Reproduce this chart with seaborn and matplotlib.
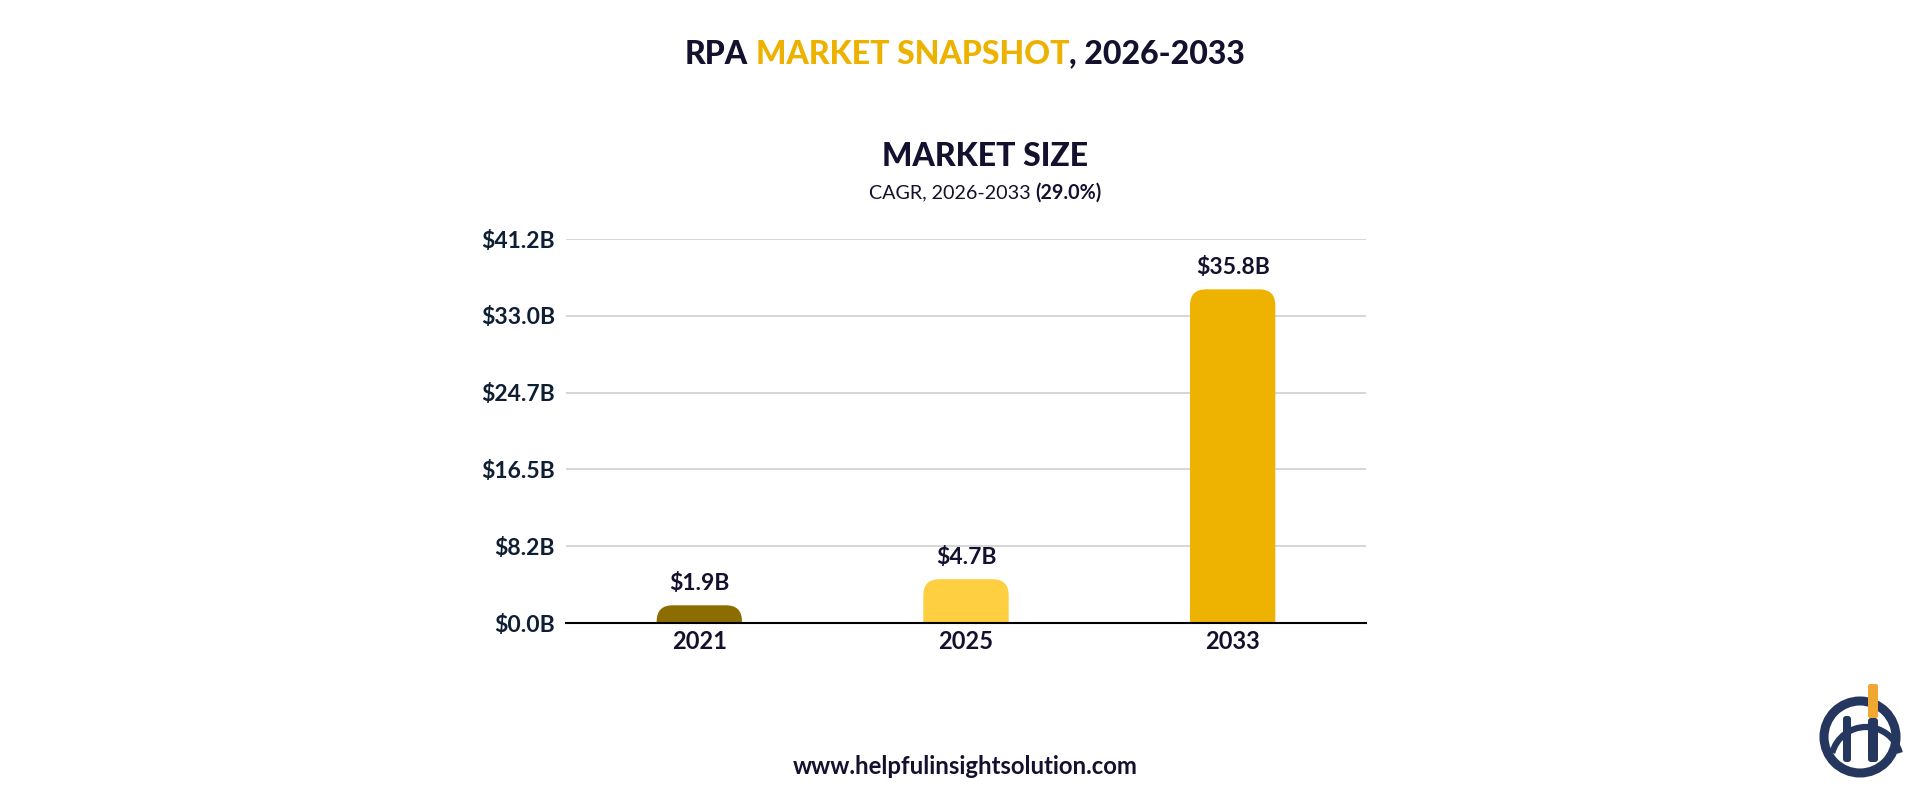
import matplotlib
matplotlib.use("Agg")
import matplotlib.pyplot as plt
import seaborn as sns
import pandas as pd
from matplotlib.patches import FancyBboxPatch, Circle, Rectangle, Arc

# ---- data ----
years = ["2021", "2025", "2033"]
values = [1.9, 4.7, 35.8]
bar_labels = ["$1.9B", "$4.7B", "$35.8B"]
ytick_vals = [0.0, 8.24, 16.48, 24.72, 32.96, 41.2]
ytick_labels = ["$0.0B", "$8.2B", "$16.5B", "$24.7B", "$33.0B", "$41.2B"]
bar_colors = ["#8C6D00", "#FDCF41", "#EEB300"]

title_parts = [("RPA ", "#14112e"), ("MARKET SNAPSHOT", "#EDB200"), (", 2026-2033", "#14112e")]
panel_title = "MARKET SIZE"
sub_regular = "CAGR, 2026-2033 "
sub_bold = "(29.0%)"
footer = "www.helpfulinsightsolution.com"

DARK = "#14112e"
NAVY = "#0f1f33"

sns.set_theme(style="white")
plt.rcParams["font.family"] = ["Lato", "DejaVu Sans"]

W, H = 1930, 806
fig = plt.figure(figsize=(W / 100, H / 100), dpi=100)
fig.patch.set_facecolor("white")


def fx(px):
    return px / W


def fy(py):
    return 1 - py / H


ax = fig.add_axes([fx(566), fy(623), 800 / W, 384 / H])
df = pd.DataFrame({"year": years, "value": values})
sns.barplot(data=df, x="year", y="value", hue="year", palette=bar_colors,
            legend=False, width=0.32, ax=ax, saturation=1)
ax.set_xlim(-0.5, 2.5)
ax.set_ylim(0, 41.2)

# rounded-top bars built from the seaborn bar geometry
xr = 3.0 / 800
yr = 41.2 / 384
rad_px = 16
patches = list(ax.patches)
for p in patches:
    x0, w, h = p.get_x(), p.get_width(), p.get_height()
    col = p.get_facecolor()
    p.set_visible(False)
    ext = rad_px * yr * 1.5
    fb = FancyBboxPatch((x0, -ext), w, h + ext,
                        boxstyle=f"round,pad=0,rounding_size={rad_px * xr}",
                        mutation_aspect=yr / xr, facecolor=col, edgecolor="none",
                        zorder=3, clip_on=True)
    ax.add_patch(fb)

for i, (v, lab) in enumerate(zip(values, bar_labels)):
    ax.annotate(lab, (i, v), xytext=(0, 8), textcoords="offset points",
                ha="center", va="bottom", fontsize=16.5, fontweight="bold", color=DARK)

ax.set_yticks(ytick_vals)
ax.set_yticklabels(ytick_labels, fontsize=16.5, fontweight="bold", color=NAVY)
ax.set_xticks(range(len(years)))
ax.set_xticklabels(years, fontsize=17, fontweight="bold", color=DARK)
ax.tick_params(axis="y", length=0, pad=8)
ax.tick_params(axis="x", length=0, pad=5)
ax.set_xlabel("")
ax.set_ylabel("")
ax.yaxis.grid(True, color="#cccccc", linewidth=1.1)
ax.set_axisbelow(True)
for s in ["top", "right", "left"]:
    ax.spines[s].set_visible(False)
ax.spines["bottom"].set_color("black")
ax.spines["bottom"].set_linewidth(1.5)
ax.spines["bottom"].set_zorder(5)

# ---- multi-colour title ----
fig.canvas.draw()
renderer = fig.canvas.get_renderer()
tkw = dict(fontsize=23, fontweight="black")


def width_of(s, **kw):
    t = fig.text(0, 0, s, **kw)
    w = t.get_window_extent(renderer).width
    t.remove()
    return w


space_w = width_of("x x", **tkw) - width_of("xx", **tkw)
widths = []
for s, c in title_parts:
    core = s.strip()
    widths.append(width_of(core, **tkw) + space_w * (len(s) - len(s.lstrip())) + space_w * (len(s) - len(s.rstrip())))
total = sum(widths)
x = 965 - total / 2
for (s, c), w in zip(title_parts, widths):
    lead = len(s) - len(s.lstrip())
    fig.text(fx(x + lead * space_w), fy(54), s.strip(), color=c, ha="left", va="center", **tkw)
    x += w

# ---- panel title and subtitle ----
fig.text(fx(985), fy(156), panel_title, ha="center", va="center",
         fontsize=23, fontweight="black", color=DARK)
skw_r = dict(fontsize=14.2, color=DARK)
skw_b = dict(fontsize=14.2, color=DARK, fontweight="bold")
sw = width_of("x x", **skw_r) - width_of("xx", **skw_r)
w1 = width_of(sub_regular.strip(), **skw_r) + sw
w2 = width_of(sub_bold, **skw_b)
x0 = 985 - (w1 + w2) / 2
fig.text(fx(x0), fy(193), sub_regular.strip(), ha="left", va="center", **skw_r)
fig.text(fx(x0 + w1), fy(193), sub_bold, ha="left", va="center", **skw_b)

# ---- footer ----
fig.text(fx(965), fy(766), footer, ha="center", va="center",
         fontsize=17.2, fontweight="bold", color=DARK)

# ---- logo ----
lax = fig.add_axes([fx(1800), fy(800), 130 / W, 130 / H])
lax.set_xlim(1800, 1930)
lax.set_ylim(800, 670)
lax.axis("off")
navy = "#25375f"
orange = "#F0A830"
lax.add_patch(Circle((1860, 737), 36, fill=False, edgecolor=navy, linewidth=6.5))
lax.add_patch(FancyBboxPatch((1843, 716), 8, 46, boxstyle="round,pad=0,rounding_size=3",
                             facecolor=navy, edgecolor="none"))
lax.add_patch(FancyBboxPatch((1868, 718), 10, 44, boxstyle="round,pad=0,rounding_size=3",
                             facecolor=navy, edgecolor="none"))
lax.add_patch(FancyBboxPatch((1868, 684), 10, 34, boxstyle="round,pad=0,rounding_size=2",
                             facecolor=orange, edgecolor="none"))
lax.add_patch(Arc((1866, 762), 70, 70, theta1=195, theta2=345, edgecolor=navy, linewidth=4.5))

fig.savefig("out.png", dpi=100, facecolor="white")
